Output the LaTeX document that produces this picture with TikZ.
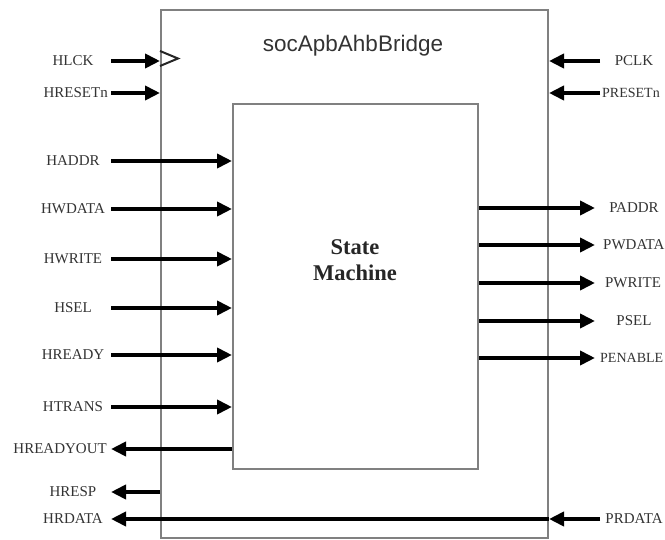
\documentclass[tikz,border=0pt]{standalone}
\usepackage{fontspec}
\setmainfont{Liberation Serif}
\newfontfamily\titlefont{Liberation Sans}
\usetikzlibrary{arrows.meta}
\begin{document}
\begin{tikzpicture}[x=1pt,y=-1pt,
  box/.style={draw=black!50,line width=2pt},
  sig/.style={line width=3.8pt,-{Triangle[length=15pt,width=14pt]}},
  pin/.style={font=\fontsize{15}{16}\selectfont,inner sep=0pt,text=black!80},
]
\useasboundingbox (0,0) rectangle (665,540);

% bridge block and the inner state machine
\node[box,minimum width=387pt,minimum height=528pt,anchor=north west,inner sep=0pt] (br) at (160,9) {};
\node[box,minimum width=245pt,minimum height=365pt,anchor=north west,inner sep=0pt] (sm) at (232,103) {};
\node[font=\titlefont\fontsize{22.5}{24}\selectfont,text=black!80] (title) at (353,46) {socApbAhbBridge};
\node[font=\fontsize{22.5}{26}\selectfont\bfseries,align=center,text=black!85] (smt) at (355,260) {State\\Machine};

% clock marker on the bridge edge
\draw[black!85,line width=2pt] (br.west |- 0,51) -- (178,58.5) -- (br.west |- 0,66);

% AHB side: clock and reset into the bridge
\node[pin] (hclk) at (73,61) {HLCK};
\coordinate (hclks) at (111,61);
\draw[sig] (hclks) -- (hclks -| br.west);
\node[pin,anchor=east] (hrst) at (108,93) {HRESETn};
\coordinate (hrsts) at (111,93);
\draw[sig] (hrsts) -- (hrsts -| br.west);

% AHB inputs into the state machine
\foreach \nm/\yy in {HADDR/161,HWDATA/209,HWRITE/259,HSEL/308,HREADY/355,HTRANS/407}{
  \node[pin] (l\nm) at (73,\yy) {\nm};
  \coordinate (s\nm) at (111,\yy);
  \draw[sig] (s\nm) -- (s\nm -| sm.west);
}

% AHB outputs
\node[pin,anchor=east] (hro) at (107,449) {HREADYOUT};
\coordinate (hroe) at (111,449);
\draw[sig] (hroe -| sm.west) -- (hroe);
\node[pin] (hresp) at (73,492) {HRESP};
\coordinate (hrespe) at (111,492);
\draw[sig] (hrespe -| br.west) -- (hrespe);
\node[pin] (hrd) at (73,519) {HRDATA};
\coordinate (hrde) at (111,519);
\draw[sig] (hrde -| br.east) -- (hrde);

% APB side: clock and reset into the bridge
\node[pin] (pclk) at (634,61) {PCLK};
\coordinate (pclks) at (600,61);
\draw[sig] (pclks) -- (pclks -| br.east);
\node[pin,anchor=west,font=\fontsize{14}{16}\selectfont] (prst) at (602,93) {PRESETn};
\coordinate (prsts) at (600,93);
\draw[sig] (prsts) -- (prsts -| br.east);

% APB outputs from the state machine
\foreach \nm/\yy/\xx/\an in {PADDR/208/634/center,PWDATA/245/603/west,PWRITE/283/633/center,PSEL/321/634/center}{
  \node[pin,anchor=\an] (r\nm) at (\xx,\yy) {\nm};
  \coordinate (e\nm) at (595,\yy);
  \draw[sig] (e\nm -| sm.east) -- (e\nm);
}
\node[pin,anchor=west,font=\fontsize{14}{16}\selectfont] (rPENABLE) at (600,358) {PENABLE};
\coordinate (ePENABLE) at (595,358);
\draw[sig] (ePENABLE -| sm.east) -- (ePENABLE);

% APB read data into the bridge
\node[pin] (prd) at (634,519) {PRDATA};
\coordinate (prds) at (600,519);
\draw[sig] (prds) -- (prds -| br.east);
\end{tikzpicture}
\end{document}
